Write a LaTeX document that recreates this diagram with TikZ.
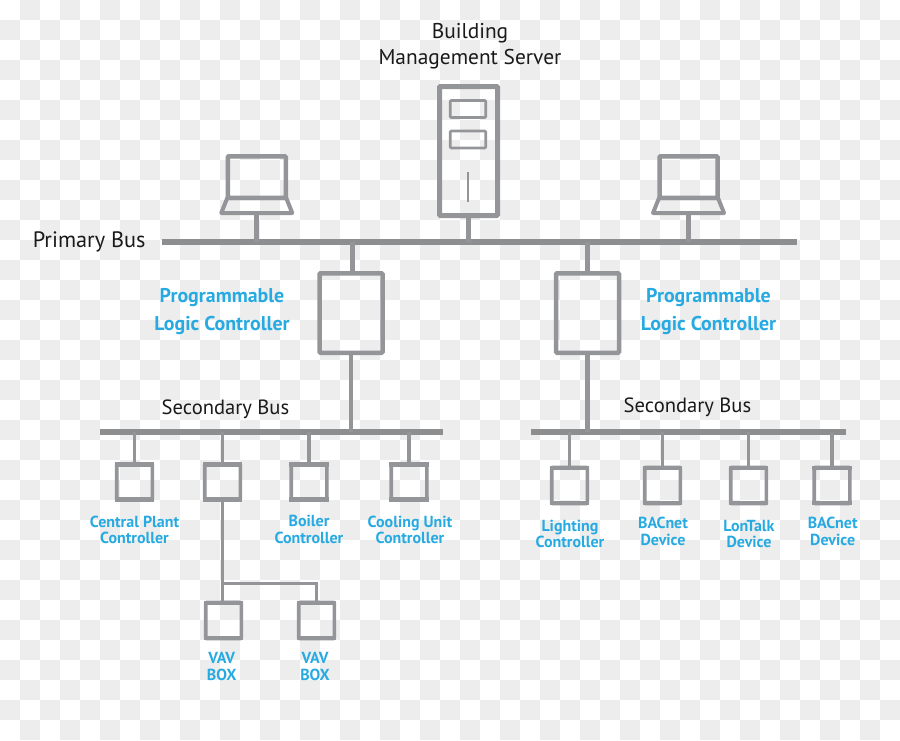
\documentclass[tikz,border=0pt]{standalone}
\usepackage{fontspec}
\setmainfont{PT Sans}
\usetikzlibrary{calc}
\definecolor{ink}{HTML}{939598}
\definecolor{busink}{HTML}{8C8E90}
\definecolor{tile}{HTML}{EDEDED}
\definecolor{labelblue}{HTML}{27AAE1}
\definecolor{labelblack}{HTML}{1A1A1A}
\tikzset{
  x=1pt, y=-1pt,
  box/.style={draw=ink, rounded corners=1pt, inner sep=0pt},
  laptopscreen/.style={box, line width=4.5pt, minimum width=58pt, minimum height=41.5pt},
  tower/.style={box, line width=5pt, minimum width=58pt, minimum height=129pt},
  slot/.style={box, line width=2.6pt, minimum width=35.5pt, minimum height=17pt},
  plc/.style={box, line width=4.5pt, minimum width=63pt, minimum height=79.5pt},
  device/.style={box, line width=3.6pt, minimum width=35.6pt, minimum height=36pt},
  bus/.style={fill=busink, inner sep=0pt, outer sep=0pt},
  thicklink/.style={draw=ink, line width=4.6pt},
  thinlink/.style={draw=ink, line width=3.4pt},
  heading/.style={text=labelblack, inner sep=0pt, anchor=base, align=center, font=\fontsize{21.4}{26}\selectfont},
  primarylabel/.style={text=labelblack, inner sep=0pt, anchor=base, font=\fontsize{22.3}{24}\selectfont},
  buslabel/.style={text=labelblack, inner sep=0pt, anchor=base, font=\fontsize{20.6}{24}\selectfont},
  plclabel/.style={text=labelblue, inner sep=0pt, anchor=base, align=center, font=\fontsize{19.9}{28}\selectfont\bfseries},
  devlabel/.style={text=labelblue, inner sep=0pt, anchor=base, align=center, font=\fontsize{16}{16.3}\selectfont\bfseries},
}
\begin{document}
\begin{tikzpicture}
\useasboundingbox (0,0) rectangle (900,740);

% checkered backdrop, 20 units a square
\foreach \j in {0,2,...,36} \foreach \i in {1,3,...,43}
  \fill[tile] (20*\i,20*\j) rectangle (20*\i+20,20*\j+20);
\foreach \j in {1,3,...,35} \foreach \i in {0,2,...,44}
  \fill[tile] (20*\i,20*\j) rectangle (20*\i+20,20*\j+20);

% buses
\node[bus, minimum width=635pt, minimum height=6pt] (pbus) at (479.5,242) {};
\node[bus, minimum width=343pt, minimum height=5.5pt] (sbusl) at (271.5,432) {};
\node[bus, minimum width=315pt, minimum height=5.5pt] (sbusr) at (688.5,432) {};

% server tower
\node[tower] (server) at (468.5,151) {};
\node[slot] (slota) at (468,109) {};
\node[slot] (slotb) at (468,139.5) {};
\coordinate (ledtop) at (468,172);
\coordinate (ledbot) at (468,202);
\draw[draw=ink, line width=2pt] (ledtop) -- (ledbot);
\draw[thicklink] (server.south) -- (server.south |- pbus);

% laptops on the primary bus
\foreach \n/\cx in {1/256.75,2/688.5} {
  \node[laptopscreen] (lap\n) at (\cx,177) {};
  \coordinate (lapfoot\n) at (\cx,215);
  \draw[draw=ink, line width=4pt, line join=round]
    (\cx-29.5,198) -- (\cx+29.5,198) -- (\cx+35.5,213) -- (\cx-35.5,213) -- cycle;
  \draw[thicklink] (lapfoot\n) -- (lapfoot\n |- pbus);
}

% programmable controllers
\node[plc] (plcl) at (351,313) {};
\node[plc] (plcr) at (587.5,313) {};
\draw[thicklink] ([xshift=1.7pt]plcl.north) -- ([xshift=1.7pt]plcl.north |- pbus);
\draw[thicklink] (plcr.north) -- (plcr.north |- pbus);
\draw[thicklink] (plcl.south) -- (plcl.south |- sbusl);
\draw[thicklink] (plcr.south) -- (plcr.south |- sbusr);

% field devices: left bus, right bus, then the VAV boxes
\foreach \n/\cx/\cy in {cp/134.5/482, hub/222.5/482, boil/309/482, cool/409/482,
                        light/569.5/485.5, bacl/662.5/485.5, lon/748.5/485.5, bacr/832/485.5,
                        vava/223.5/620.5, vavb/316.5/620.5} {
  \node[device] (\n) at (\cx,\cy) {};
  \fill[ink] (\n.north west) rectangle ([yshift=-4.6pt]\n.north east);
  \fill[ink] (\n.south west) rectangle ([yshift=4.8pt]\n.south east);
}
\foreach \n in {cp,hub,boil,cool}
  \draw[thinlink] (\n.north) -- (\n.north |- sbusl);
\foreach \n in {light,bacl,lon,bacr}
  \draw[thinlink] (\n.north) -- (\n.north |- sbusr);
\draw[thinlink] (hub.south) -- (hub.south |- vava.north);
\coordinate (branch) at (223,583.5);
\draw[draw=ink, line width=3pt] (branch) -| (vavb.north);

% labels: multi-line nodes sit on the baseline of their last line
\node[heading] (lserver) at (470,64.5) {Building\\Management Server};
\node[primarylabel] (lpbus) at (89.2,247.7) {Primary Bus};
\node[buslabel] (lsbusl) at (225.5,414.7) {Secondary Bus};
\node[buslabel] (lsbusr) at (687.5,412.7) {Secondary Bus};
\node[plclabel] (lplcl) at (222,330) {Programmable\\Logic Controller};
\node[plclabel] (lplcr) at (708.5,330) {Programmable\\Logic Controller};
\node[devlabel] (lcp) at (134.5,543.5) {Central Plant\\Controller};
\node[devlabel] (lboil) at (309,543) {Boiler\\Controller};
\node[devlabel] (lcool) at (410,543.5) {Cooling Unit\\Controller};
\node[devlabel] (llight) at (570,547.5) {Lighting\\Controller};
\node[devlabel] (lbacl) at (663,545) {BACnet\\Device};
\node[devlabel] (llon) at (749,547.5) {LonTalk\\Device};
\node[devlabel] (lbacr) at (832.7,545) {BACnet\\Device};
\node[devlabel] (lvava) at (221.7,680) {VAV\\BOX};
\node[devlabel] (lvavb) at (315,680) {VAV\\BOX};
\end{tikzpicture}
\end{document}
